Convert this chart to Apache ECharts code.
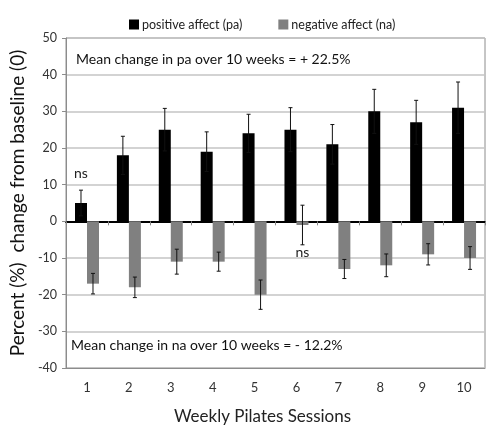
<!DOCTYPE html>
<html><head><meta charset="utf-8">
<script src="https://cdn.jsdelivr.net/npm/echarts@6/dist/echarts.min.js"></script>
<style>html,body{margin:0;padding:0;background:#fff}#c{width:490px;height:435px}</style>
</head><body><div id="c"></div>
<script>
const sessions = ['1','2','3','4','5','6','7','8','9','10'];
const paValues = [5, 18, 25, 19, 24, 25, 21, 30, 27, 31];
const paErrors = [3.5, 5.2, 5.8, 5.4, 5.2, 6, 5.4, 6, 6, 7];
const naValues = [-17, -18, -11, -11, -20, -1, -13, -12, -9, -10];
const naErrors = [2.8, 2.8, 3.4, 2.6, 4, 5.4, 2.6, 3.1, 2.9, 3.1];
const paNotes = ['ns', '', '', '', '', '', '', '', '', ''];
const naNotes = ['', '', '', '', '', 'ns', '', '', '', ''];
const yTicks = [-40, -30, -20, -10, 0, 10, 20, 30, 40, 50];
const paText = 'Mean change in pa over 10 weeks = + 22.5%';
const naText = 'Mean change in na over 10 weeks = - 12.2%';

const FONT = 'Lato';
const BAR_W = 12;

function withNotes(vals, notes, pos, dist) {
  return vals.map((v, i) => notes[i] ? {
    value: v,
    label: {show: true, formatter: notes[i], position: pos, distance: dist,
            color: '#222', fontSize: 14, fontFamily: FONT}
  } : v);
}

function errSeries(vals, errs, side) {
  return {
    type: 'custom', xAxisIndex: 0, yAxisIndex: 0, z: 5, silent: true,
    data: vals.map((v, i) => [i, v - errs[i], v + errs[i]]),
    renderItem: function (params, api) {
      const lo = api.coord([api.value(0), api.value(1)]);
      const hi = api.coord([api.value(0), api.value(2)]);
      const x = lo[0] + side * BAR_W / 2;
      const cap = 2;
      const st = {stroke: '#111', lineWidth: 1};
      return {type: 'group', children: [
        {type: 'line', shape: {x1: x, y1: lo[1], x2: x, y2: hi[1]}, style: st},
        {type: 'line', shape: {x1: x - cap, y1: lo[1], x2: x + cap, y2: lo[1]}, style: st},
        {type: 'line', shape: {x1: x - cap, y1: hi[1], x2: x + cap, y2: hi[1]}, style: st}
      ]};
    }
  };
}

const chart = echarts.init(document.getElementById('c'), null, {renderer: 'canvas'});
chart.setOption({
  backgroundColor: '#fff',
  animation: false,
  textStyle: {fontFamily: FONT},
  legend: {
    top: 13, left: 124, itemWidth: 10, itemHeight: 10, itemGap: 36,
    icon: 'rect',
    textStyle: {fontSize: 12.5, color: '#222', fontFamily: FONT, padding: [0, 0, 0, -2]},
    data: ['positive affect (pa)', 'negative affect (na)']
  },
  grid: {left: 63, right: 5, top: 38, bottom: 67, show: true,
         borderColor: '#8c8c8c', borderWidth: 1, backgroundColor: 'transparent'},
  xAxis: [
    {
      type: 'category', data: sessions, position: 'bottom',
      axisLine: {onZero: false, lineStyle: {color: '#8c8c8c'}},
      axisTick: {show: false},
      axisLabel: {color: '#333', fontSize: 13, fontFamily: FONT, margin: 13},
      name: 'Weekly Pilates Sessions', nameLocation: 'middle', nameGap: 40,
      nameTextStyle: {fontSize: 17, color: '#222', fontFamily: FONT, padding: [0, 26, 0, 0]}
    },
    {
      type: 'category', data: sessions, position: 'top',
      axisLine: {onZero: true, lineStyle: {color: '#000', width: 2}},
      axisTick: {show: true, inside: true, length: 4, lineStyle: {color: '#888'}},
      axisLabel: {show: false}
    }
  ],
  yAxis: {
    type: 'value', min: -40, max: 50, interval: 10,
    axisLine: {show: true, lineStyle: {color: '#8c8c8c'}},
    axisTick: {show: true, length: 4, lineStyle: {color: '#8c8c8c'}},
    axisLabel: {color: '#333', fontSize: 12.5, fontFamily: FONT, margin: 9,
                formatter: v => yTicks.includes(v) ? String(v) : ''},
    splitLine: {show: true, lineStyle: {color: '#c4c4c4', width: 1.5}},
    name: 'Percent (%)  change from baseline (0)', nameLocation: 'middle', nameGap: 38,
    nameTextStyle: {fontSize: 19, color: '#111', fontFamily: FONT}
  },
  graphic: [
    {type: 'text', left: 76, top: 52, style: {text: paText, font: '14px Lato', fill: '#111'}},
    {type: 'text', left: 71, top: 338, style: {text: naText, font: '14px Lato', fill: '#111'}}
  ],
  series: [
    {name: 'positive affect (pa)', type: 'bar', xAxisIndex: 0, barWidth: BAR_W, barGap: '0%',
     itemStyle: {color: '#000'}, z: 3,
     data: withNotes(paValues, paNotes, 'top', 23)},
    {name: 'negative affect (na)', type: 'bar', xAxisIndex: 0, barWidth: BAR_W, barGap: '0%',
     itemStyle: {color: '#808080'}, z: 3,
     data: withNotes(naValues, naNotes, 'bottom', 20)},
    errSeries(paValues, paErrors, -1),
    errSeries(naValues, naErrors, 1)
  ]
});
</script></body></html>
